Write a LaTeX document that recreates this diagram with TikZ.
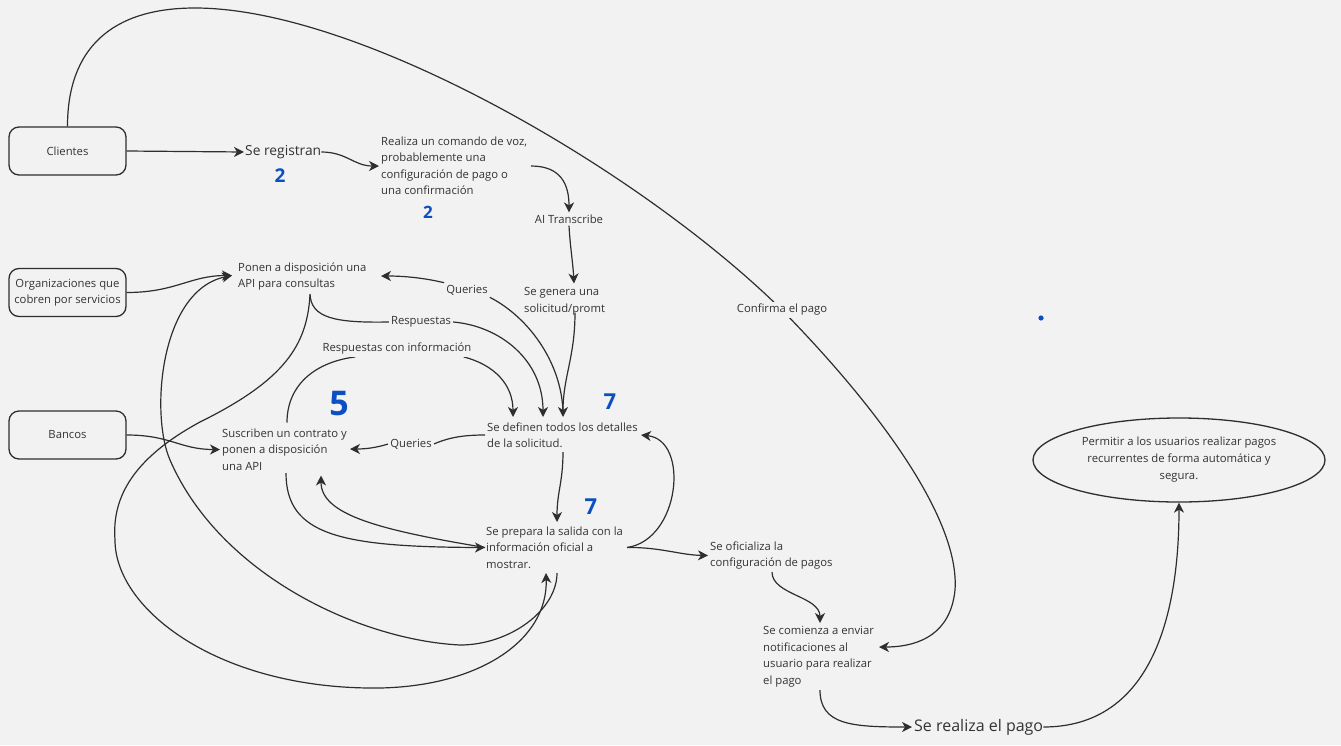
\documentclass[tikz,border=0pt]{standalone}
\usepackage{fontspec}
\setmainfont{Open Sans}
\usetikzlibrary{arrows.meta,shapes.geometric}
\definecolor{bgc}{HTML}{F2F2F2}
\definecolor{ink}{HTML}{2E2E2E}
\definecolor{txt}{HTML}{333333}
\definecolor{hand}{HTML}{0B4FC2}
\pgfdeclarelayer{back}
\pgfdeclarelayer{wires}
\pgfsetlayers{back,wires,main}
\begin{document}
\begin{tikzpicture}[x=1pt,y=-1pt,
  box/.style={draw=ink, line width=1.3pt, rounded corners=10pt, minimum width=117pt, minimum height=48pt, inner sep=0pt, align=center, text=txt, font=\fontsize{11.3}{16}\selectfont},
  lbl/.style={inner sep=0pt, anchor=west, align=left, text=txt, font=\fontsize{11.3}{16.5}\selectfont},
  tag/.style={fill=bgc, inner sep=2pt, text=txt, font=\fontsize{11.3}{13}\selectfont},
  wire/.style={draw=ink, line width=1.2pt},
  arr/.style={wire, -{Stealth[length=10pt,width=10pt,inset=3pt]}},
  num/.style={text=hand, inner sep=0pt},
]
\begin{pgfonlayer}{back}
\fill[bgc] (0,0) rectangle (1341,745);
\end{pgfonlayer}

% boxes
\node[box] (cli) at (67.5,151) {Clientes};
\node[box] (org) at (67.5,292.5) {Organizaciones que\\cobren por servicios};
\node[box] (ban) at (67.5,435) {Bancos};

% step texts
\node[lbl, font=\fontsize{13.8}{16}\selectfont] (reg) at (245,152) {Se registran};
\node[lbl] (rea) at (381,166) {Realiza un comando de voz,\\probablemente una\\configuración de pago o\\una confirmación};
\node[lbl, anchor=center] (ai) at (569,219) {AI Transcribe};
\node[lbl] (gen) at (524,301.5) {Se genera una\\solicitud/promt};
\node[lbl] (pon) at (238,276.5) {Ponen a disposición una\\API para consultas};
\node[lbl] (sus) at (222,449.5) {Suscriben un contrato y\\ponen a disposición\\una API};
\node[lbl] (def) at (487,435) {Se definen todos los detalles\\de la solicitud.};
\node[lbl] (pre) at (486,547.5) {Se prepara la salida con la\\información oficial a\\mostrar.};
\node[lbl] (ofi) at (710,555.5) {Se oficializa la\\configuración de pagos};
\node[lbl] (com) at (763,656.5) {Se comienza a enviar\\notificaciones al\\usuario para realizar\\el pago};
\node[lbl, font=\fontsize{16}{18}\selectfont] (pay) at (914,727) {Se realiza el pago};
\node[ellipse, draw=ink, line width=1.3pt, minimum width=292pt, minimum height=84pt, inner sep=0pt, align=center, text=txt, font=\fontsize{11.3}{17}\selectfont] (goal) at (1179,460) {Permitir a los usuarios realizar pagos\\recurrentes de forma automática y\\segura.};

% connector labels
\node[tag] (lq1) at (467,290) {Queries};
\node[tag] (lres) at (421,322) {Respuestas};
\node[tag] (lrci) at (397,349) {Respuestas con información};
\node[tag] (lq2) at (411,444) {Queries};
\node[tag] (lcp) at (782,310) {Confirma el pago};

% handwritten marks
\node[num, font=\bfseries\fontsize{19}{19}\selectfont] (n2a) at (280,176) {2};
\node[num, font=\bfseries\fontsize{17}{17}\selectfont] (n2b) at (428,212) {2};
\node[num, font=\bfseries\fontsize{34}{34}\selectfont] (n5) at (339,404) {5};
\node[num, font=\bfseries\fontsize{22}{22}\selectfont] (n7a) at (610,402) {7};
\node[num, font=\bfseries\fontsize{22}{22}\selectfont] (n7b) at (591,507) {7};
\fill[hand] (1041,318) circle (2.6pt);

\begin{pgfonlayer}{wires}
\draw[arr] (cli.east) -- ([xshift=-1pt]reg.west);
\draw[arr] (reg.east) .. controls +(25,0) and +(-25,0) .. ([xshift=-2pt]rea.west);
\draw[arr] ([shift={(150,0)}]rea.west) .. controls +(30,0) and +(0,-28) .. ([shift={(0,-2)}]ai.north);
\draw[arr] ([shift={(0,2)}]ai.south) .. controls +(1,20) and +(-1,-20) .. ([shift={(50,-18)}]gen.west);
\draw[arr] ([shift={(51,11)}]gen.west) .. controls +(0,45) and +(0,-40) .. ([shift={(76,-18)}]def.west);
\draw[arr] (org.east) .. controls +(49,0) and +(-42,0) .. ([shift={(-6,-1)}]pon.west);
\draw[arr] (ban.east) .. controls +(44,0) and +(-40,0) .. ([shift={(-2,0)}]sus.west);

% Respuestas
\draw[wire] ([shift={(72,17.5)}]pon.west) .. controls (311,318) and (335,323) .. (lres.west);
\draw[arr] (lres.east) .. controls (500,326) and (543,360) .. ([shift={(56,-18)}]def.west);
% Queries (upper)
\draw[wire] ([shift={(76,-20)}]def.west) .. controls (563,365) and (530,318) .. (lq1.south east);
\draw[arr] (lq1.north west) .. controls (420,277) and (400,276) .. ([shift={(143,-0.5)}]pon.west);
% Respuestas con informacion
\draw[wire] ([shift={(65,-27)}]sus.west) .. controls (287,385) and (315,362) .. ([shift={(35,0)}]lrci.south west);
\draw[arr] ([shift={(-10,0)}]lrci.south east) .. controls (495,365) and (513,385) .. ([shift={(26,-18)}]def.west);
% Queries (lower)
\draw[wire] ([shift={(-2,0)}]def.west) .. controls (465,435) and (450,437) .. (lq2.east);
\draw[arr] (lq2.west) .. controls (375,448) and (365,449) .. ([shift={(128,-0.5)}]sus.west);

\draw[arr] ([shift={(76,17)}]def.west) .. controls +(0,30) and +(0,-30) .. ([shift={(71,-25.5)}]pre.west);
\draw[arr] ([shift={(64,23.5)}]sus.west) .. controls (286,535) and (340,547) .. ([xshift=-1pt]pre.west);
\draw[arr] ([xshift=-1pt]pre.west) .. controls (380,530) and (321,515) .. ([shift={(99,26)}]sus.west);
\draw[arr] ([shift={(141,0)}]pre.west) .. controls (680,540) and (690,440) .. ([shift={(154,0)}]def.west);
\draw[arr] ([shift={(141,0)}]pre.west) .. controls (660,547) and (680,555) .. ([xshift=-2pt]ofi.west);
\draw[arr] ([shift={(62,16.5)}]ofi.west) .. controls +(0,23) and +(0,-27) .. ([shift={(57,-33.5)}]com.west);
\draw[arr] ([shift={(57,33.5)}]com.west) .. controls +(0,35) and +(-60,0) .. ([xshift=-2pt]pay.west);
\draw[arr] (pay.east) .. controls +(106,0) and +(0,117) .. (goal.south);

% big loops
\draw[arr] ([shift={(72,18.5)}]pon.west) .. controls (307,345) and (285,380) .. (200,422)
  .. controls (130,460) and (112,500) .. (115,540)
  .. controls (115,610) and (220,690) .. (380,688)
  .. controls (480,686) and (548,640) .. ([shift={(60,25.5)}]pre.west);
\draw[arr] ([shift={(71,25.5)}]pre.west) .. controls (557,610) and (510,645) .. (460,645)
  .. controls (360,640) and (220,575) .. (170,460)
  .. controls (150,414) and (160,290) .. ([shift={(-6,-1)}]pon.west);

% Confirma el pago
\draw[wire] (cli.north) .. controls (67.5,50) and (110,8) .. (195,8)
  .. controls (360,8) and (640,170) .. (lcp.center);
\draw[arr] (lcp.center) .. controls (880,410) and (960,520) .. (955,590)
  .. controls (950,640) and (910,647) .. ([shift={(116,-9.5)}]com.west);
\end{pgfonlayer}
\end{tikzpicture}
\end{document}
